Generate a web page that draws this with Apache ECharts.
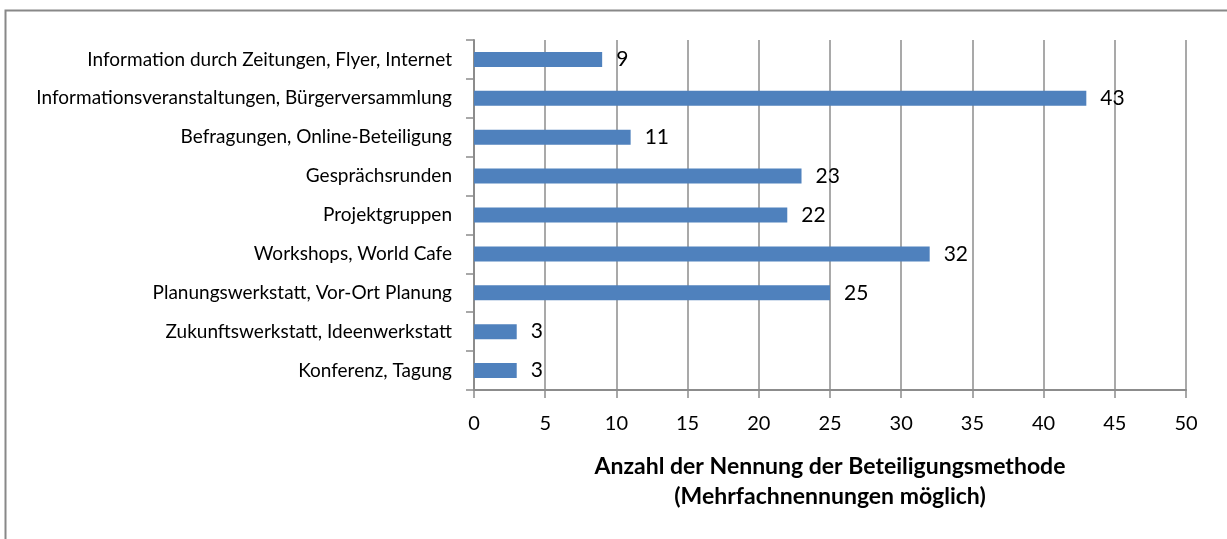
<!DOCTYPE html>
<html>
<head>
<meta charset="utf-8">
<script src="https://cdn.jsdelivr.net/npm/echarts@6/dist/echarts.min.js"></script>
<style>
  html, body { margin: 0; padding: 0; background: #fff; }
  #chart-container { width: 1227px; height: 539px; }
</style>
</head>
<body>
<div id="chart-container"></div>
<script>
// categories top to bottom, as in the picture
var methods = [
  'Information durch Zeitungen, Flyer, Internet',
  'Informationsveranstaltungen, Bürgerversammlung',
  'Befragungen, Online-Beteiligung',
  'Gesprächsrunden',
  'Projektgruppen',
  'Workshops, World Cafe',
  'Planungswerkstatt, Vor-Ort Planung',
  'Zukunftswerkstatt, Ideenwerkstatt',
  'Konferenz, Tagung'
];
var counts = [9, 43, 11, 23, 22, 32, 25, 3, 3];
var axisTitle = 'Anzahl der Nennung der Beteiligungsmethode\n(Mehrfachnennungen möglich)';

var dom = document.getElementById('chart-container');
var myChart = echarts.init(dom, null, { renderer: 'canvas' });

var option = {
  animation: false,
  textStyle: { fontFamily: 'Lato' },
  graphic: [
    {
      type: 'rect',
      shape: { x: 5.5, y: 10.5, width: 1240, height: 560 },
      style: { fill: 'none', stroke: '#888', lineWidth: 2 }
    }
  ],
  grid: { left: 474, right: 41, top: 40, bottom: 149 },
  xAxis: {
    type: 'value',
    min: 0,
    max: 50,
    interval: 5,
    axisLine: { show: true, lineStyle: { color: '#8c8c8c', width: 2 } },
    axisTick: { show: true, length: 8, lineStyle: { color: '#8c8c8c', width: 1.5 } },
    splitLine: { show: true, lineStyle: { color: '#8c8c8c', width: 1.5 } },
    axisLabel: { color: '#000', fontSize: 20, margin: 24 },
    name: axisTitle,
    nameLocation: 'middle',
    nameGap: 62,
    nameTextStyle: { color: '#000', fontSize: 23, fontWeight: 'bold', lineHeight: 30 }
  },
  yAxis: {
    type: 'category',
    inverse: true,
    data: methods,
    axisLine: { show: true, lineStyle: { color: '#8c8c8c', width: 2 } },
    axisTick: { show: true, length: 8, lineStyle: { color: '#8c8c8c', width: 1.5 } },
    axisLabel: { color: '#000', fontSize: 19, margin: 22 }
  },
  series: [
    {
      type: 'bar',
      data: counts,
      barWidth: 15,
      itemStyle: { color: '#4f81bd' },
      label: {
        show: true,
        position: 'right',
        distance: 14,
        color: '#000',
        fontSize: 21
      }
    }
  ]
};

myChart.setOption(option);
</script>
</body>
</html>
